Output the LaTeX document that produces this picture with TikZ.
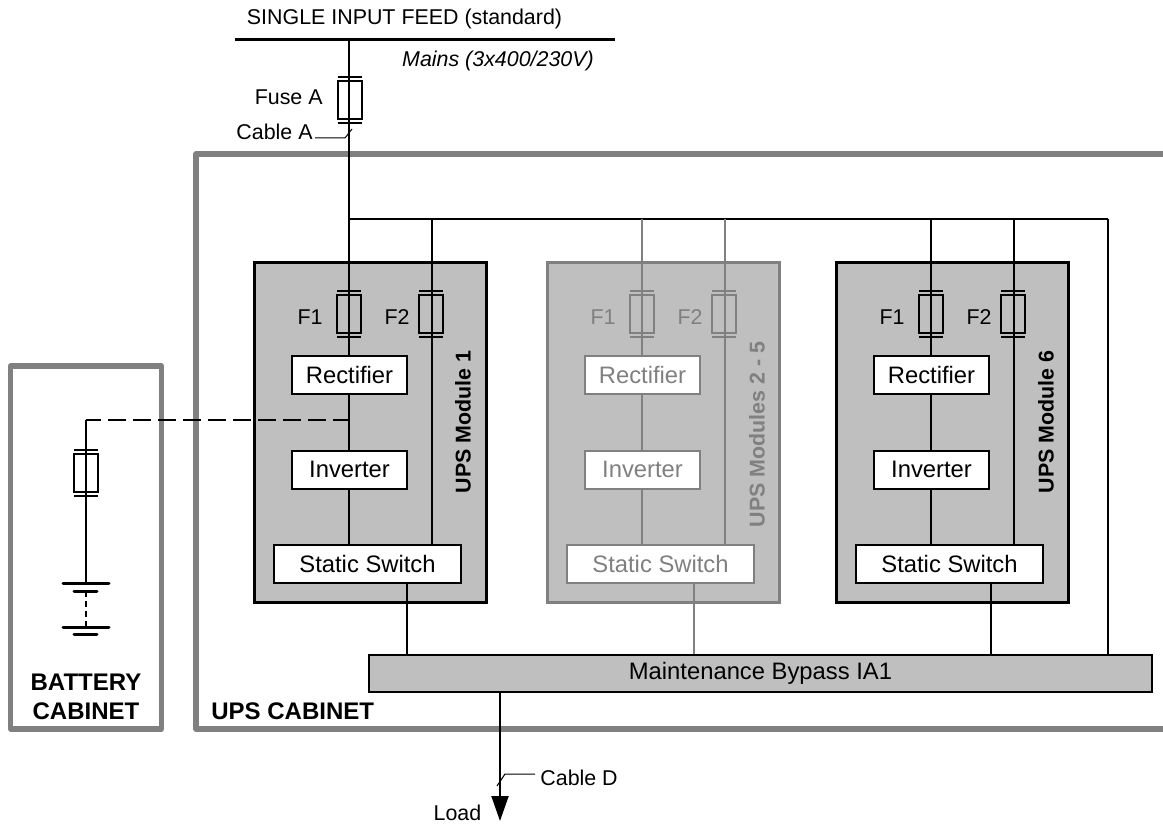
\documentclass[tikz,border=0pt]{standalone}
\usepackage{fontspec}
\setmainfont{Liberation Sans}
\usetikzlibrary{arrows.meta}

\definecolor{cabgray}{HTML}{808080}

\tikzset{
  wire/.style={line width=1pt},
  leader/.style={line width=0.5pt},
  plate/.style={line width=1.5pt, line cap=round},
  cabinet/.style={line width=2.7pt, draw=cabgray, line join=round},
  label/.style={font=\fontsize{10.7}{13}\selectfont, inner sep=0pt},
  boxlabel/.style={font=\fontsize{11.9}{14}\selectfont, inner sep=0pt},
  title/.style={font=\fontsize{12}{14}\selectfont\bfseries, inner sep=0pt},
  modlabel/.style={font=\fontsize{10.7}{13}\selectfont\bfseries, inner sep=0pt, rotate=90},
  unit/.style={boxlabel, draw, fill=white, line width=1pt, minimum height=19pt},
  module/.style={draw, fill=black!25, line width=1.5pt, minimum width=116pt, minimum height=170pt},
  pics/fuse/.style={code={
    \draw[line width=1pt] (-12,-19) rectangle (12,19);
    \draw[line width=1pt] (-12,-23) -- (12,-23) (-12,23) -- (12,23);
  }}
}

\begin{document}
\begin{tikzpicture}[x=0.5pt, y=-0.5pt]
\useasboundingbox (0,0) rectangle (1163,824);

% Cabinets
\draw[cabinet] (1163,154) -- (196,154) -- (196,729) -- (1163,729);
\draw[cabinet] (10.5,366) rectangle (161.5,729);
\node[title, anchor=west] (upslabel) at (211,711) {UPS CABINET};
\node[title, align=center] (batlabel) at (86,697) {BATTERY\\[0.5pt]CABINET};

% Mains feed
\coordinate (barl) at (235,40);
\coordinate (barr) at (615,40);
\coordinate (feed) at (349,38);
\coordinate (busl) at (349,219);
\coordinate (busr) at (1108,219);
\draw[line width=1.5pt] (barl) -- (barr);
\node[label] (feedlabel) at (404.5,19) {SINGLE INPUT FEED (standard)};
\node[label, font=\fontsize{10.7}{13}\selectfont\itshape] (mains) at (498,61) {Mains (3x400/230V)};
\pic at (349.5,100.5) {fuse};
\node[label, anchor=east] (fusea) at (323,97) {Fuse A};
\node[label, anchor=east] (cablea) at (313,132) {Cable A};
\coordinate (cablea0) at (315,138);
\coordinate (cablea1) at (345,138);
\coordinate (cablea2) at (352,129);
\draw[leader] (cablea0) -- (cablea1) -- (cablea2);
\draw[wire] (feed) -- (busl);
\draw[wire] (busl) -- (busr);

% Bypass
\node[draw, fill=black!25, wire, minimum width=391.5pt, minimum height=18.5pt, boxlabel] (bypass) at (760.5,673.5) {Maintenance Bypass IA1};
\draw[wire] (busr) -- (bypass.north -| busr);

% Modules
\foreach \id/\mx/\tapx/\nx/\ny/\col/\name in {
  1/0/407/463/422/black/UPS Module 1,
  2/293/694/757/434.5/cabgray/UPS Modules 2 - 5,
  3/582/991/1046/422/black/UPS Module 6}
{
  \begin{scope}[draw=\col, text=\col, \col]
  \node[module, draw=\col] (mod\id) at (\mx+370.75,432) {};
  \coordinate (wa\id) at (\mx+349,219);
  \coordinate (wb\id) at (\mx+432,219);
  \coordinate (tap\id) at (\tapx,600);
  \node[unit, draw=\col, minimum width=57.5pt] (rec\id) at (\mx+349.5,375) {Rectifier};
  \node[unit, draw=\col, minimum width=57.5pt] (inv\id) at (\mx+349.5,469.5) {Inverter};
  \node[unit, draw=\col, minimum width=93.5pt] (ssw\id) at (\mx+367.5,564) {Static Switch};
  \draw[wire, \col] (wa\id) -- (rec\id.north -| wa\id);
  \draw[wire, \col] (wb\id) -- (ssw\id.north -| wb\id);
  \draw[wire, \col] (rec\id.south -| wa\id) -- (inv\id.north -| wa\id);
  \draw[wire, \col] (inv\id.south -| wa\id) -- (ssw\id.north -| wa\id);
  \draw[wire, \col] (ssw\id.south -| tap\id) -- (bypass.north -| tap\id);
  \pic[\col] at (\mx+349,314) {fuse};
  \pic[\col] at (\mx+431,314) {fuse};
  \node[label, text=\col] (fa\id) at (\mx+310,317) {F1};
  \node[label, text=\col] (fb\id) at (\mx+397,317) {F2};
  \node[modlabel, text=\col] (name\id) at (\nx,\ny) {\name};
  \end{scope}
}

% Battery
\coordinate (batt) at (86,420);
\coordinate (batb) at (86,583);
\coordinate (cell) at (86,591);
\coordinate (cellb) at (86,627);
\draw[wire, dash pattern=on 8.75pt off 3.75pt, dash phase=1.5pt] (batt) -- (349,420);
\draw[wire] (batt) -- (batb);
\pic at (86,473) {fuse};
\draw[wire, dash pattern=on 3pt off 2pt] (cell) -- (cellb);
\draw[plate] (63,583) -- (109,583) (74,591) -- (97,591);
\draw[plate] (63,627) -- (109,627) (74,634) -- (97,634);

% Load
\coordinate (loadend) at (500,821);
\draw[wire, -{Triangle[width=8.5pt,length=12.5pt]}] (bypass.south -| loadend) -- (loadend);
\node[label] (load) at (457.5,813) {Load};
\node[label, anchor=west] (cabled) at (540,778) {Cable D};
\coordinate (cabled0) at (535,774);
\coordinate (cabled1) at (505,774);
\coordinate (cabled2) at (497,786);
\draw[leader] (cabled0) -- (cabled1) -- (cabled2);

\end{tikzpicture}
\end{document}
